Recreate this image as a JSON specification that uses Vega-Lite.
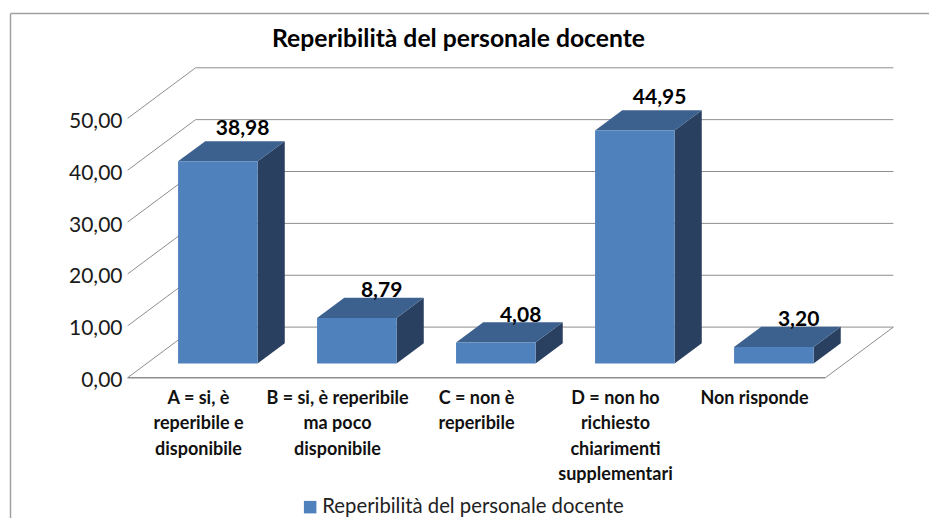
{
"$schema":"https://vega.github.io/schema/vega-lite/v6.json",
"width":919,"height":505,
"autosize":{"type":"none"},
"padding":{"left":10,"top":13,"right":0,"bottom":0},
"background":"white",
"title":{"text":"Reperibilità del personale docente","font":"Lato","fontSize":24.7,"fontWeight":"bold","color":"#000000","anchor":"middle","frame":"group","dx":-11,"offset":-39},
"config":{"view":{"stroke":null},"axis":{"grid":false}},
"params":[{"name":"depthX","value":0.4892},{"name":"depthY","value":9.757}],
"datasets":{
"bars":[
{"categoria":"A = si, è\nreperibile e\ndisponibile","valore":38.98},
{"categoria":"B = si, è reperibile\nma poco\ndisponibile","valore":8.79},
{"categoria":"C = non è\nreperibile","valore":4.08},
{"categoria":"D = non ho\nrichiesto\nchiarimenti\nsupplementari","valore":44.95},
{"categoria":"Non risponde","valore":3.20}],
"griglia":[{"tick":0},{"tick":10},{"tick":20},{"tick":30},{"tick":40},{"tick":50}]
},
"layer":[
{"data":{"name":"griglia"},
 "transform":[{"calculate":"-0.51+depthX","as":"xa"},{"calculate":"4.51+depthX","as":"xb"},{"calculate":"datum.tick+depthY","as":"yb"}],
 "mark":{"type":"rule","color":"#8e8e8e","strokeWidth":1},
 "encoding":{
  "x":{"field":"xa","type":"quantitative","scale":{"domain":[-1.3561,5.2554],"nice":false,"zero":false},
   "axis":{"orient":"top","title":null,"labels":false,"ticks":false,"domain":true,"domainColor":"#a0a0a0","domainWidth":1.5,"grid":false}},
  "x2":{"field":"xb"},
  "y":{"field":"yb","type":"quantitative","scale":{"domain":[-27.05,70.32],"nice":false,"zero":false},
   "axis":{"orient":"left","title":null,"values":[0,10,20,30,40,50],"ticks":false,"domain":true,"domainColor":"#a0a0a0","domainWidth":1.5,"labelPadding":-112,"labelFont":"Lato","labelFontSize":21,"labelColor":"#1a1a1a","labelOffset":3,"labelFlush":false,"labelBound":false,"labelExpr":"replace(format(datum.value,'.2f'),'.',',')"}}
 }},
{"data":{"name":"griglia"},
 "transform":[{"calculate":"-0.51","as":"xa"},{"calculate":"-0.51+depthX","as":"xb"},{"calculate":"datum.tick+depthY","as":"yb"}],
 "mark":{"type":"rule","color":"#8e8e8e","strokeWidth":1},
 "encoding":{"x":{"field":"xa","type":"quantitative"},"x2":{"field":"xb"},"y":{"field":"tick","type":"quantitative"},"y2":{"field":"yb"}}},
{"data":{"name":"griglia"},
 "transform":[{"filter":"datum.tick===0"},{"calculate":"4.51","as":"xa"},{"calculate":"4.51+depthX","as":"xb"},{"calculate":"datum.tick+depthY","as":"yb"}],
 "mark":{"type":"rule","color":"#8e8e8e","strokeWidth":1},
 "encoding":{"x":{"field":"xa","type":"quantitative"},"x2":{"field":"xb"},"y":{"field":"tick","type":"quantitative"},"y2":{"field":"yb"}}},
{"data":{"name":"griglia"},
 "transform":[{"filter":"datum.tick===0"},{"calculate":"-0.51","as":"xa"},{"calculate":"4.51","as":"xb"}],
 "mark":{"type":"rule","color":"#8e8e8e","strokeWidth":1.5},
 "encoding":{"x":{"field":"xa","type":"quantitative"},"x2":{"field":"xb"},"y":{"field":"tick","type":"quantitative"}}},
{"data":{"name":"bars"},
 "transform":[{"window":[{"op":"row_number","as":"n"}]},{"calculate":"datum.n-1","as":"i"},
  {"calculate":"[0.28,0.68]","as":"t"},{"flatten":["t"]},
  {"calculate":"datum.i+0.288+datum.t*depthX","as":"xs"},
  {"calculate":"datum.t*depthY","as":"y0"},
  {"calculate":"datum.valore+datum.t*depthY","as":"y1"}],
 "mark":{"type":"area","orient":"vertical","color":"#2A4060"},
 "encoding":{"x":{"field":"xs","type":"quantitative"},"y":{"field":"y1","type":"quantitative"},"y2":{"field":"y0"},"detail":{"field":"categoria"}}},
{"data":{"name":"bars"},
 "transform":[{"window":[{"op":"row_number","as":"n"}]},{"calculate":"datum.n-1","as":"i"},
  {"calculate":"[0.28,0.68]","as":"t"},{"flatten":["t"]},
  {"calculate":"datum.i-0.284+datum.t*depthX","as":"xl"},
  {"calculate":"datum.i+0.288+datum.t*depthX","as":"xr"},
  {"calculate":"datum.valore+datum.t*depthY","as":"y1"}],
 "mark":{"type":"area","orient":"horizontal","color":"#3C618F"},
 "encoding":{"y":{"field":"y1","type":"quantitative"},"x":{"field":"xl","type":"quantitative"},"x2":{"field":"xr"},"detail":{"field":"categoria"}}},
{"data":{"name":"bars"},
 "transform":[{"window":[{"op":"row_number","as":"n"}]},{"calculate":"datum.n-1","as":"i"},
  {"calculate":"datum.i-0.284+0.28*depthX","as":"xl"},
  {"calculate":"datum.i+0.288+0.28*depthX","as":"xr"},
  {"calculate":"0.28*depthY","as":"y0"},
  {"calculate":"datum.valore+0.28*depthY","as":"y1"},
  {"calculate":"'Reperibilità del personale docente'","as":"serie"}],
 "mark":{"type":"rect"},
 "encoding":{"x":{"field":"xl","type":"quantitative"},"x2":{"field":"xr"},"y":{"field":"y1","type":"quantitative"},"y2":{"field":"y0"},
  "color":{"field":"serie","type":"nominal","scale":{"range":["#4F81BD"]},
   "legend":{"title":null,"orient":"none","legendX":290,"legendY":484,"padding":0,"symbolType":"square","symbolSize":156,"symbolStrokeWidth":0,"labelFont":"Lato","labelFontSize":20.3,"labelColor":"#222222","labelOffset":2,"labelLimit":0}}}},
{"data":{"name":"bars"},
 "transform":[{"window":[{"op":"row_number","as":"n"}]},{"calculate":"datum.n-1","as":"i"},
  {"calculate":"datum.i+0.68*depthX-0.015","as":"xt"},
  {"calculate":"datum.valore+0.68*depthY+(datum.valore>20?2.4:1.2)","as":"yt"},
  {"calculate":"replace(format(datum.valore,'.2f'),'.',',')","as":"etichetta"}],
 "mark":{"type":"text","font":"Lato","fontWeight":"bold","fontSize":21,"color":"#000000","baseline":"middle","align":"center"},
 "encoding":{"x":{"field":"xt","type":"quantitative"},"y":{"field":"yt","type":"quantitative"},"text":{"field":"etichetta"}}},
{"data":{"name":"bars"},
 "transform":[{"window":[{"op":"row_number","as":"n"}]},{"calculate":"datum.n-1","as":"i"},{"calculate":"0","as":"yc"}],
 "mark":{"type":"text","font":"Lato","fontWeight":"bold","fontSize":18,"color":"#111111","baseline":"top","align":"center","lineBreak":"\n","lineHeight":25.5,"dy":12},
 "encoding":{"x":{"field":"i","type":"quantitative"},"y":{"field":"yc","type":"quantitative"},"text":{"field":"categoria"}}}
]
}
